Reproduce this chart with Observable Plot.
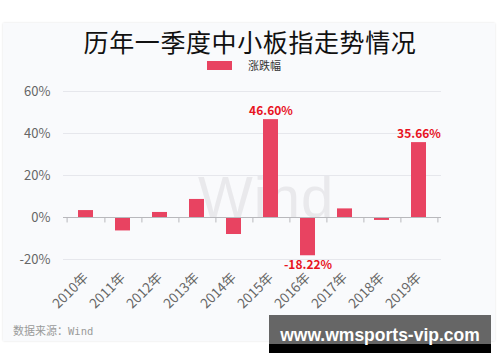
<!DOCTYPE html>
<html>
<head>
<meta charset="utf-8">
<script src="https://cdn.jsdelivr.net/npm/d3@7"></script>
<script src="https://cdn.jsdelivr.net/npm/@observablehq/plot@0.6"></script>
<style>
  html, body { margin: 0; padding: 0; background: #fff; }
  #wrap { position: relative; width: 500px; height: 362px; overflow: hidden; font-family: "Noto Sans CJK SC", "Noto Sans", sans-serif; }
  #card { position: absolute; left: 3px; top: 23px; width: 492px; height: 318px; background: #f9fafc; box-shadow: 0 0 2px rgba(0,0,0,0.12); }
  #title { position: absolute; left: 0; width: 500px; top: 29px; height: 25px; line-height: 25px; text-align: center; font-size: 25px; letter-spacing: 0.6px; color: #111; white-space: nowrap; }
  #legend { position: absolute; top: 58px; left: 207px; height: 14px; line-height: 14px; font-size: 11px; color: #333; display: flex; align-items: center; }
  #legend .sw { width: 25px; height: 9px; background: #e84361; margin-right: 16px; }
  #wm { position: absolute; left: 198px; top: 168px; line-height: 58px; font-family: "Liberation Sans", Arial, sans-serif; font-size: 58px; color: #e9e9ec; letter-spacing: 1px; white-space: nowrap; }
  #plot { position: absolute; left: 0; top: 0; }
  #source { position: absolute; left: 13px; top: 322px; font-size: 11px; color: #9a9a9a; white-space: nowrap; }
  #source span { font-family: "DejaVu Sans Mono", monospace; font-size: 10.5px; }
  #site { position: absolute; left: 269px; top: 315px; width: 222px; height: 29px; background: #666666; border-bottom: 9px solid #000; color: #fff; font-family: "Liberation Sans", Arial, sans-serif; font-weight: bold; font-size: 17.5px; text-align: center; line-height: 40px; white-space: nowrap; overflow: visible; }
</style>
</head>
<body>
<div id="wrap">
  <div id="card"></div>
  <div id="title">历年一季度中小板指走势情况</div>
  <div id="legend"><div class="sw"></div><div>涨跌幅</div></div>
  <div id="wm">Wind</div>
  <div id="plot"></div>
  <div id="source">数据来源：<span>Wind</span></div>
  <div id="site">www.wmsports-vip.com</div>
</div>
<script>
const years = ["2010年","2011年","2012年","2013年","2014年","2015年","2016年","2017年","2018年","2019年"];
const changes = [3.3, -6.4, 2.4, 8.6, -8.1, 46.60, -18.22, 4.1, -1.4, 35.66];
const labelled = ["2015年","2016年","2019年"];
const yTicks = [-20, 0, 20, 40, 60];

const data = years.map((y, i) => ({year: y, value: changes[i]}));
const labelData = data.filter(d => labelled.includes(d.year));
const posLabels = labelData.filter(d => d.value >= 0);
const negLabels = labelData.filter(d => d.value < 0);

const step = 37.8;
const labelOpts = {
  x: "year", y: "value",
  text: d => d.value.toFixed(2) + "%",
  fill: "#e8141f", fontWeight: "bold", fontSize: 12
};
const chart = Plot.plot({
  width: 500,
  height: 362,
  marginLeft: 63,
  marginRight: 59,
  marginTop: 91,
  marginBottom: 103,
  style: { background: "transparent", fontFamily: "'Noto Sans CJK SC', 'Noto Sans', sans-serif", overflow: "visible" },
  x: { domain: years, paddingInner: 0.6, paddingOuter: 0.3 },
  y: { domain: [-20, 60] },
  marks: [
    Plot.gridY(yTicks, { stroke: "#e6e7ec", strokeOpacity: 1 }),
    Plot.axisY(yTicks, { tickSize: 0, tickPadding: 13, tickFormat: d => d + "%", fontSize: 13, fill: "#666", label: null }),
    Plot.axisX({ tickSize: 0, tickPadding: 16, tickRotate: -45, fontSize: 13.5, fill: "#666", label: null }),
    Plot.barY(data, { x: "year", y: "value", fill: "#e84361" }),
    Plot.ruleY([0], { stroke: "#b8b8bc" }),
    Plot.ruleX(years, { x: d => d, y1: 0, y2: -2.6, dx: step / 2, stroke: "#b8b8bc" }),
    Plot.ruleX(years.slice(0, 1), { x: d => d, y1: 0, y2: -2.6, dx: -step / 2, stroke: "#b8b8bc" }),
    Plot.text(posLabels, { ...labelOpts, dy: -8 }),
    Plot.text(negLabels, { ...labelOpts, dy: 9 })
  ]
});
document.getElementById("plot").appendChild(chart);
</script>
</body>
</html>
